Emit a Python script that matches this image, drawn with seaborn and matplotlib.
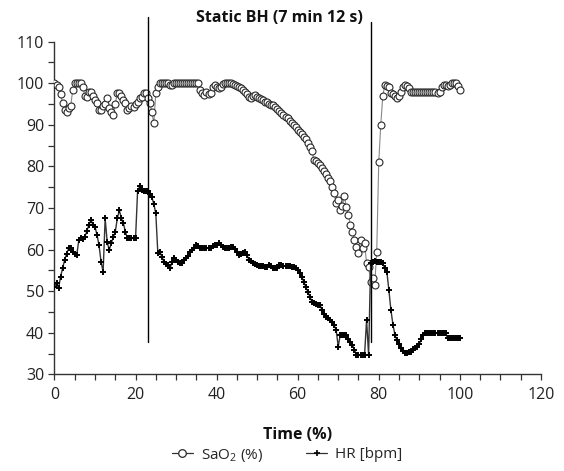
import numpy as np
import pandas as pd
import matplotlib
matplotlib.use("Agg")
import matplotlib.pyplot as plt
import seaborn as sns

# ---------------- data ----------------
TIME = [
    0, 0.5, 1, 1.5, 2, 2.5, 3, 3.5, 4, 4.5, 5, 5.5, 6, 6.5, 7, 7.5, 8, 8.5, 9, 9.5,
    10, 10.5, 11, 11.5, 12, 12.5, 13, 13.5, 14, 14.5, 15, 15.5, 16, 16.5, 17, 17.5, 18, 18.5, 19, 19.5,
    20, 20.5, 21, 21.5, 22, 22.5, 23, 23.5, 24, 24.5, 25, 25.5, 26, 26.5, 27, 27.5, 28, 28.5, 29, 29.5,
    30, 30.5, 31, 31.5, 32, 32.5, 33, 33.5, 34, 34.5, 35, 35.5, 36, 36.5, 37, 37.5, 38, 38.5, 39, 39.5,
    40, 40.5, 41, 41.5, 42, 42.5, 43, 43.5, 44, 44.5, 45, 45.5, 46, 46.5, 47, 47.5, 48, 48.5, 49, 49.5,
    50, 50.5, 51, 51.5, 52, 52.5, 53, 53.5, 54, 54.5, 55, 55.5, 56, 56.5, 57, 57.5, 58, 58.5, 59, 59.5,
    60, 60.5, 61, 61.5, 62, 62.5, 63, 63.5, 64, 64.5, 65, 65.5, 66, 66.5, 67, 67.5, 68, 68.5, 69, 69.5,
    70, 70.5, 71, 71.5, 72, 72.5, 73, 73.5, 74, 74.5, 75, 75.5, 76, 76.5, 77, 77.5, 78, 78.5, 79, 79.5,
    80, 80.5, 81, 81.5, 82, 82.5, 83, 83.5, 84, 84.5, 85, 85.5, 86, 86.5, 87, 87.5, 88, 88.5, 89, 89.5,
    90, 90.5, 91, 91.5, 92, 92.5, 93, 93.5, 94, 94.5, 95, 95.5, 96, 96.5, 97, 97.5, 98, 98.5, 99, 99.5,
    100,
]

SAO2 = [
    100, 99.6, 99, 97.5, 95.2, 93.6, 93.2, 94, 94.5, 98.4, 100, 100, 100, 100, 99.2, 97, 96.8, 98, 98, 97,
    96, 95.2, 93.6, 93.6, 94.5, 95, 96.4, 94, 93.2, 92.4, 95, 97.6, 97.6, 97, 96, 95.2, 93.6, 94, 94.5, 94.4,
    95, 95.5, 96.4, 96.8, 97.6, 97.6, 96.5, 95.2, 93.2, 90.4, 97.6, 99.2, 100, 100, 100, 100, 100, 99.5, 99.6, 100,
    100, 100, 100, 100, 100, 100, 100, 100, 100, 100, 100, 100, 98.5, 97.6, 97.2, 98, 97.5, 97.6, 99, 99.6,
    99.2, 98.8, 99.2, 99.8, 100, 100, 100, 100, 99.8, 99.6, 99.4, 99, 98.8, 98.4, 98, 97.4, 96.6, 96.4, 97, 97.2,
    96.8, 96.4, 96.2, 96, 95.6, 95.4, 95, 94.8, 94.8, 94.2, 93.8, 93.4, 92.8, 92.4, 92, 91.6, 91, 90.4, 90, 89.4,
    88.8, 88.4, 87.8, 87.2, 86.6, 85.6, 84.6, 83.6, 81.6, 81.2, 80.8, 80.4, 79.6, 79, 78.2, 77.2, 76.4, 75, 73.6, 71.2,
    72, 69.5, 70.5, 73, 70.3, 68.3, 66, 64.3, 62.3, 60.7, 59.1, 62.3, 60.4, 61.5, 56.7, 55.9, 52.3, 53.1, 51.5, 59.5,
    81, 90, 97, 99.6, 99.4, 99, 97.6, 97.4, 97, 96.4, 97, 98, 99, 99.6, 99.4, 98.8, 98, 98, 98, 98,
    98, 98, 98, 98, 98, 98, 98, 98, 98, 97.6, 98, 99, 99.6, 99.6, 99.4, 99.6, 100, 100, 100, 99.4,
    98.4,
]

HR = [
    51, 52, 50.7, 53.5, 55.5, 57.5, 59, 60.3, 60.5, 59.5, 59, 58.7, 62.3, 62.7, 62.5, 63.1, 64.5, 66, 67.1, 66,
    65.5, 63.5, 61, 57, 54.7, 67.5, 61.9, 59.9, 61.5, 63, 64.3, 67.5, 69.5, 67.5, 66.3, 64.3, 62.7, 62.7, 62.7, 62.7,
    62.7, 74, 75.2, 74.4, 74, 74, 74, 73.5, 72.7, 71, 68.7, 59.1, 59.5, 58.3, 57.1, 56.5, 56.3, 55.5, 57, 57.9,
    57.5, 57, 56.7, 56.7, 57.5, 57.9, 58.5, 59.5, 59.8, 60.5, 61.1, 60.8, 60.5, 60.3, 60.5, 60.3, 60.5, 60.3, 60.8, 61,
    61.2, 61.5, 61, 60.7, 60.5, 60.3, 60.5, 60.7, 60.7, 60.2, 59.5, 58.7, 58.9, 59.2, 59.5, 58.7, 57.5, 57.3, 56.8, 56.5,
    56.3, 56.1, 56, 56, 55.9, 55.8, 56.3, 56.1, 55.6, 55.5, 55.5, 56.3, 56.2, 56, 56, 56, 56, 55.9, 55.9, 55.5,
    55, 54.5, 53.5, 52.3, 51, 49.9, 48.7, 47.5, 47.2, 47, 46.8, 46.7, 45.5, 44.5, 43.9, 43.5, 43, 42.7, 41.8, 40.7,
    36.7, 39.5, 39.5, 39.5, 39.5, 38.6, 37.8, 37.1, 35.9, 34.7, 34.7, 34.7, 34.7, 34.7, 43.1, 34.7, 56.7, 57.1, 57.3, 57.1,
    57, 57, 56.7, 55.5, 54.7, 50.3, 45.5, 42, 39.5, 38.2, 37.3, 36.3, 35.6, 35.1, 35.1, 35.5, 35.5, 36, 36.3, 36.5,
    37.3, 38.5, 39.5, 39.9, 39.9, 39.9, 39.9, 39.9, 39.9, 39.9, 39.9, 39.9, 39.9, 39.9, 38.7, 38.7, 38.7, 38.7, 38.7, 38.7,
    38.7,
]

# breath-hold start / end markers (time %) and their vertical extent
BH_TIMES = [23.1, 78.2]
BH_LOW = [37.8, 37.8]
BH_HIGH = [116.0, 114.8]

TITLE = "Static BH (7 min 12 s)"
XLABEL = "Time (%)"
LABEL_SAO2 = "SaO$_2$ (%)"
LABEL_HR = "HR [bpm]"
X_TICKS = [0, 20, 40, 60, 80, 100, 120]
Y_TICKS = [30, 40, 50, 60, 70, 80, 90, 100, 110]

# ---------------- style ----------------
sns.set_style("ticks")
plt.rcParams["font.family"] = ["Open Sans", "DejaVu Sans"]
plt.rcParams["mathtext.fontset"] = "custom"
plt.rcParams["mathtext.rm"] = "Open Sans"
plt.rcParams["mathtext.default"] = "rm"

df = pd.DataFrame({"time": TIME, "sao2": SAO2, "hr": HR})

fig = plt.figure(figsize=(5.64, 4.71), dpi=100)
ax = fig.add_axes([0.0966, 0.205, 0.8624, 0.7065])

sns.lineplot(data=df, x="time", y="sao2", ax=ax, sort=False, estimator=None,
             color="#888888", linewidth=0.8, marker="o", markersize=5,
             markerfacecolor="white", markeredgecolor="#2a2a2a",
             markeredgewidth=0.8, zorder=3)
sns.lineplot(data=df, x="time", y="hr", ax=ax, sort=False, estimator=None,
             color="#333333", linewidth=1.0, marker="+", markersize=4.5,
             markeredgecolor="black", markeredgewidth=1.4, zorder=4)

for t, lo, hi in zip(BH_TIMES, BH_LOW, BH_HIGH):
    ax.plot([t, t], [lo, hi], color="black", linewidth=1.0, clip_on=False, zorder=5)

ax.set_xlim(0, 120)
ax.set_ylim(30, 110)
ax.set_xticks(X_TICKS)
ax.set_yticks(Y_TICKS)
ax.xaxis.set_minor_locator(matplotlib.ticker.MultipleLocator(5))
ax.yaxis.set_minor_locator(matplotlib.ticker.MultipleLocator(5))
ax.tick_params(which="both", direction="out", length=4, width=0.9, color="#333333",
               labelsize=11.5, labelcolor="#222222")
ax.tick_params(axis="x", which="major", pad=5)
sns.despine(ax=ax)
for s in ("left", "bottom"):
    ax.spines[s].set_color("#333333")
    ax.spines[s].set_linewidth(1.0)

ax.set_xlabel(XLABEL, fontsize=11.5, fontweight="bold", labelpad=17, color="#111111")
ax.set_ylabel("")

fig.text(279 / 564, 1 - 18 / 471, TITLE, ha="center", va="center",
         fontsize=11.5, fontweight="bold", color="#111111")

h1 = matplotlib.lines.Line2D([], [], color="#333333", linewidth=0.9, marker="o",
                             markersize=5.5, markerfacecolor="white",
                             markeredgecolor="#2a2a2a", markeredgewidth=0.9)
h2 = matplotlib.lines.Line2D([], [], color="#333333", linewidth=0.9, marker="+",
                             markersize=5, markeredgecolor="black", markeredgewidth=1.2)
fig.legend([h1, h2], [LABEL_SAO2, LABEL_HR], loc="center",
           bbox_to_anchor=(287 / 564, 1 - 455 / 471), ncol=2, frameon=False,
           fontsize=11, handlelength=1.4, handletextpad=0.5, columnspacing=2.8)

fig.savefig("out.png", dpi=100)
